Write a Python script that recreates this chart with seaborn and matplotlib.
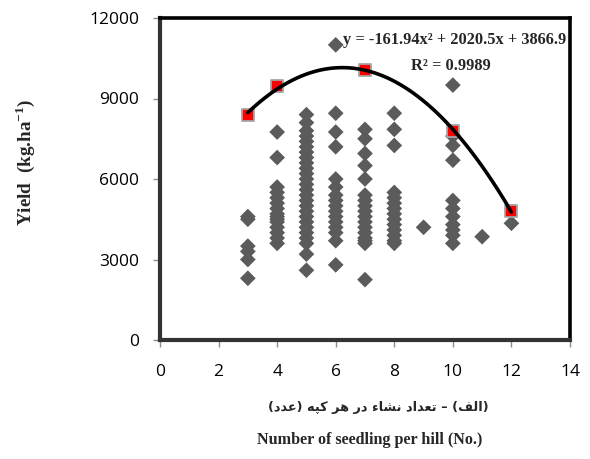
import numpy as np
import pandas as pd
import matplotlib
matplotlib.use("Agg")
import matplotlib.pyplot as plt
import seaborn as sns

# ---- data ----
obs_x = ([3] * 6 + [4] * 15 + [5] * 26 + [6] * 16 + [7] * 17 + [8] * 14
         + [9] + [10] * 11 + [11] + [12])
obs_y = (
    [4600, 4500, 3500, 3300, 3000, 2300]
    + [7750, 6800, 5700, 5500, 5300, 5100, 4900, 4700, 4600, 4500, 4400, 4200, 4000, 3800, 3600]
    + [8400, 8100, 7800, 7600, 7400, 7200, 7000, 6800, 6600, 6400, 6200, 6000, 5800,
       5600, 5400, 5200, 5000, 4800, 4600, 4400, 4200, 4000, 3800, 3600, 3200, 2600]
    + [11000, 8450, 7750, 7200, 6000, 5700, 5400, 5200, 5000, 4800, 4600, 4400, 4200, 4000, 3700, 2800]
    + [7850, 7500, 6950, 6500, 6000, 5400, 5200, 5000, 4800, 4600, 4400, 4200, 4000, 3800, 3700, 3600, 2250]
    + [8450, 7850, 7250, 5500, 5300, 5100, 4900, 4700, 4500, 4300, 4100, 3900, 3700, 3600]
    + [4200]
    + [9500, 7600, 7250, 6700, 5200, 4900, 4600, 4300, 4100, 3900, 3600]
    + [3850]
    + [4350]
)
mean_x = [3, 4, 7, 10, 12]
mean_y = [8400, 9450, 10050, 7800, 4800]

x_ticks = [0, 2, 4, 6, 8, 10, 12, 14]
y_ticks = [0, 3000, 6000, 9000, 12000]

equation = "y = -161.94x\u00b2 + 2020.5x + 3866.9"
r2_text = "R\u00b2 = 0.9989"
y_label = r"Yield  (kg.ha$^{\mathbf{-1}}$)"
x_label_en = "Number of seedling per hill (No.)"
# Persian label "(الف) – تعداد نشاء در هر کپه (عدد)" in shaped visual order
x_label_fa = ("(\uFEA9\uFEAA\uFECB) \uFEEA\uFB59\uFB90 \uFEAE\uFEEB \uFEAD\uFEA9 "
              "\uFE80\uFE8E\uFEB8\uFEE7 \uFEA9\uFE8D\uFEAA\uFECC\uFE97 \u2013 (\uFED2\uFEDF\uFE8D)")

obs = pd.DataFrame({"x": obs_x, "y": obs_y})
means = pd.DataFrame({"x": mean_x, "y": mean_y})

# ---- figure ----
sns.set_theme(style="white")
plt.rcParams["mathtext.fontset"] = "custom"
plt.rcParams["mathtext.rm"] = "Liberation Serif:bold"
plt.rcParams["mathtext.bf"] = "Liberation Serif:bold"

fig = plt.figure(figsize=(5.9, 4.59), dpi=100)
ax = fig.add_axes([160 / 590, 1 - 340 / 459, 410 / 590, 322 / 459])

sns.scatterplot(data=obs, x="x", y="y", ax=ax, marker="D", s=64,
                color="#5b5b5b", edgecolor="none", linewidth=0, zorder=2)
sns.scatterplot(data=means, x="x", y="y", ax=ax, marker="s", s=80,
                color="#ff0000", edgecolor="#a6a6a6", linewidth=1.3, zorder=3)
sns.regplot(data=means, x="x", y="y", ax=ax, order=2, ci=None, scatter=False,
            line_kws=dict(color="black", lw=2.6, zorder=4))

ax.set_xlim(0, 14)
ax.set_ylim(0, 12000)
ax.set_xticks(x_ticks)
ax.set_yticks(y_ticks)
ax.set_xticklabels([str(t) for t in x_ticks])
ax.set_yticklabels([str(t) for t in y_ticks])
ax.set_xlabel("")
ax.set_ylabel("")

tick_font = ["Open Sans", "DejaVu Sans"]
for lab in ax.get_xticklabels() + ax.get_yticklabels():
    lab.set_family(tick_font)
    lab.set_fontsize(12.5)
    lab.set_color("black")

ax.tick_params(axis="both", which="major", direction="out", length=5, width=1,
               color="#8c8c8c", bottom=True, left=True)
ax.tick_params(axis="x", pad=12)
ax.tick_params(axis="y", pad=10)

for side in ["top", "right"]:
    ax.spines[side].set_color("black")
    ax.spines[side].set_linewidth(2.6)
for side in ["left", "bottom"]:
    ax.spines[side].set_color("#333333")
    ax.spines[side].set_linewidth(3.0)

serif_bold = dict(family="Liberation Serif", fontweight="bold")
fig.text(566 / 590, 1 - 40 / 459, equation, ha="right", va="center",
         fontsize=11.8, **serif_bold)
fig.text(451 / 590, 1 - 66 / 459, r2_text, ha="center", va="center",
         fontsize=11.8, **serif_bold)
fig.text(25 / 590, 1 - 162 / 459, y_label, rotation=90, ha="center", va="center",
         fontsize=13.8, **serif_bold)
fig.text(378 / 590, 1 - 408 / 459, x_label_fa, ha="center", va="center",
         fontsize=9.3, fontweight="bold", family=["DejaVu Sans"])
fig.text(370 / 590, 1 - 440 / 459, x_label_en, ha="center", va="center",
         fontsize=11.6, **serif_bold)

fig.savefig("out.png", dpi=100)
